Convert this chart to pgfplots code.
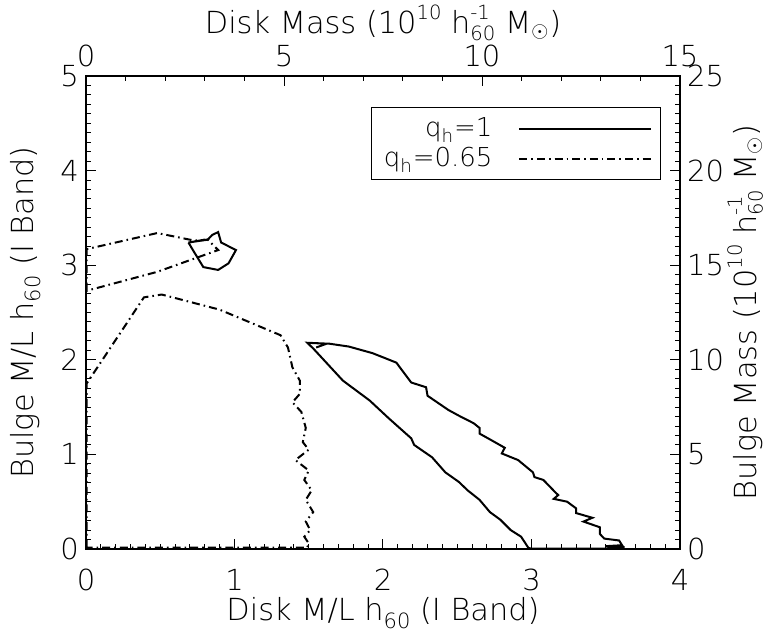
\documentclass[border=0pt]{standalone}
\usepackage{fontspec}
\setmainfont{DejaVu Sans ExtraLight}
\usepackage{pgfplots}
\pgfplotsset{compat=1.18}
\newcommand{\sub}[1]{\raisebox{-0.45ex}{\fontsize{10.5}{10.5}\selectfont #1}}
\newcommand{\sups}[1]{\raisebox{0.85ex}{\fontsize{9.8}{9.8}\selectfont #1}}
\newcommand{\supsub}[2]{\rlap{\raisebox{0.85ex}{\fontsize{9.8}{9.8}\selectfont #1}}\raisebox{-0.4ex}{\fontsize{9.8}{9.8}\selectfont #2}}
\tikzset{dashdotidl/.style={line width=1pt, dash pattern=on 4pt off 2pt on 0.8pt off 2pt}}
\begin{document}
\begin{tikzpicture}[font=\fontsize{14.5}{17}\selectfont]
\path[use as bounding box] (-43pt,-41.5pt) rectangle (340pt,274.5pt);
\begin{axis}[
  scale only axis, width=297pt, height=236.5pt,
  xmin=0, xmax=4, ymin=0, ymax=5,
  xtick={0,1,2,3,4}, ytick={0,1,2,3,4,5},
  minor x tick num=9, minor y tick num=9,
  xtick pos=left, ytick pos=left,
  tick align=inside,
  major tick length=5pt, minor tick length=2.5pt,
  axis line style={line width=0.6pt},
  every tick/.style={black, line width=0.5pt},
  /pgf/number format/assume math mode=true,
  ticklabel style={font=\fontsize{14.5}{17}\selectfont},
  xticklabel style={yshift=-6.5pt},
  xlabel={Disk M/L h\sub{60} (I Band)},
  ylabel={Bulge M/L h\sub{60} (I Band)},
  label style={font=\fontsize{15.2}{18}\selectfont},
  xlabel style={at={(axis description cs:0.5,-0.152)}, anchor=base},
  ylabel style={at={(axis description cs:-0.089,0.5)}, anchor=base},
  legend style={at={(rel axis cs:0.968,0.934)}, anchor=north east, draw=black, line width=0.5pt,
     font=\fontsize{13}{15}\selectfont, inner xsep=4pt, inner ysep=3pt,
     /tikz/every odd column/.append style={column sep=11pt}},
  legend cell align=right, legend plot pos=right,
  legend image code/.code={\draw[#1] (0pt,0pt) -- (57pt,0pt); \path (0pt,0pt) -- (66pt,0pt);},
]
\addplot[black, line width=1pt] coordinates {
(1.49,2.18)(1.64,2.17)(1.77,2.14)(1.93,2.07)(2.09,1.97)(2.19,1.76)(2.29,1.71)(2.30,1.62)
(2.44,1.47)(2.51,1.41)(2.61,1.33)(2.65,1.28)(2.65,1.22)(2.73,1.15)(2.82,1.07)(2.80,1.01)
(2.91,0.94)(3.01,0.81)(3.02,0.76)(3.08,0.73)(3.16,0.60)(3.18,0.57)(3.15,0.53)(3.24,0.50)
(3.30,0.43)(3.30,0.38)(3.41,0.33)(3.35,0.29)(3.46,0.23)(3.46,0.16)(3.49,0.11)(3.59,0.09)
(3.61,0.04)(3.50,0.03)(3.62,0.02)(3.62,0.005)(3.00,0.005)(2.98,0.01)(2.93,0.13)(2.86,0.20)
(2.79,0.31)(2.72,0.39)(2.65,0.52)(2.57,0.62)(2.51,0.71)(2.42,0.81)(2.33,0.97)(2.21,1.10)
(2.19,1.17)(2.04,1.38)(1.91,1.57)(1.73,1.78)(1.53,2.12)(1.49,2.18)(1.62,2.17)(1.55,2.13)
};
\addlegendentry{q\textsubscript{h}=1}
\addplot[black, line width=1pt, forget plot] coordinates {
(0.69,3.24)(0.72,3.16)(0.79,2.98)(0.89,2.95)(0.96,3.02)(1.01,3.16)(0.91,3.24)(0.89,3.35)
(0.85,3.32)(0.82,3.27)(0.69,3.24)(0.80,3.27)
};
\addplot[black, dashdotidl] coordinates {
(0.005,0.015)(0.005,1.75)(0.39,2.66)(0.51,2.69)(0.90,2.53)(1.31,2.26)(1.36,2.13)(1.39,1.92)
(1.44,1.78)(1.44,1.64)(1.39,1.55)(1.45,1.45)(1.48,1.28)(1.46,1.13)(1.50,1.05)(1.41,0.94)
(1.50,0.83)(1.47,0.73)(1.52,0.62)(1.48,0.52)(1.53,0.39)(1.48,0.29)(1.51,0.20)(1.47,0.13)
(1.50,0.06)(1.49,0.015)(0.005,0.015)
};
\addlegendentry{q\textsubscript{h}=0.65}
\addplot[black, dashdotidl, forget plot] coordinates {
(0.005,2.73)(0.005,3.17)(0.48,3.34)(0.73,3.26)(0.82,3.27)(0.89,3.16)(0.48,2.93)(0.005,2.73)
};
\end{axis}
\begin{axis}[
  scale only axis, width=297pt, height=236.5pt,
  xmin=0, xmax=15, ymin=0, ymax=25,
  xtick={0,5,10,15}, ytick={0,5,10,15,20,25},
  minor x tick num=4, minor y tick num=9,
  xtick pos=right, ytick pos=right,
  xticklabel pos=right, yticklabel pos=right,
  tick align=inside,
  major tick length=5pt, minor tick length=2.5pt,
  axis line style={line width=0.6pt},
  every tick/.style={black, line width=0.5pt},
  /pgf/number format/assume math mode=true,
  ticklabel style={font=\fontsize{14.5}{17}\selectfont},
  xticklabel style={yshift=1pt},
  label style={font=\fontsize{15.2}{18}\selectfont},
  xlabel={Disk Mass (10\sups{10} h\supsub{-1}{60} M$_\odot$)},
  ylabel={Bulge Mass (10\sups{10} h\supsub{-1}{60} M$_\odot$)},
  xlabel style={at={(axis description cs:0.5,1.09)}, anchor=base},
  ylabel style={at={(axis description cs:1.128,0.5)}, anchor=base},
]
\end{axis}
\end{tikzpicture}
\end{document}
